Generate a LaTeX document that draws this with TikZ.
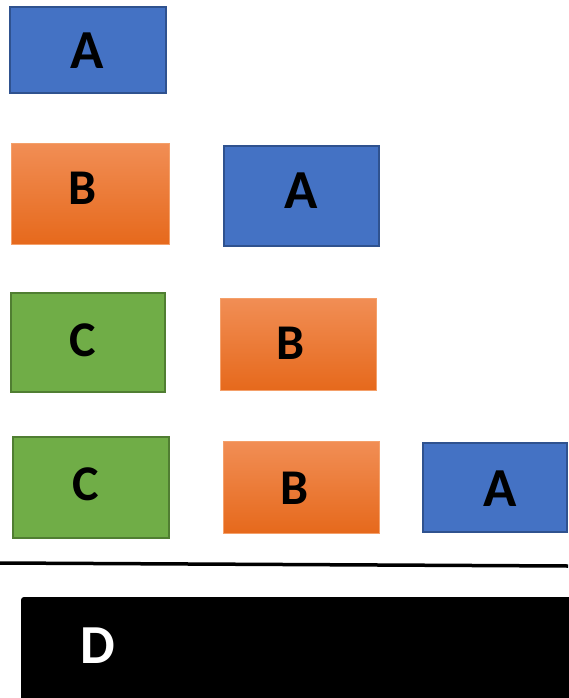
\documentclass[tikz,border=0pt]{standalone}
\usepackage{fontspec}
\setmainfont{Carlito}
\definecolor{ablue}{HTML}{4472C4}
\definecolor{ablueb}{HTML}{2F528F}
\definecolor{cgreen}{HTML}{70AD47}
\definecolor{cgreenb}{HTML}{507E32}
\definecolor{otop}{HTML}{F18E55}
\definecolor{obot}{HTML}{E6691C}
\definecolor{oborder}{HTML}{F4A06A}
\begin{document}
\begin{tikzpicture}[x=1pt,y=-1pt,
  abox/.style={fill=ablue,draw=ablueb,line width=1.6pt},
  bbox/.style={top color=otop,bottom color=obot,draw=oborder,line width=0.8pt},
  cbox/.style={fill=cgreen,draw=cgreenb,line width=1.6pt},
  lab/.style={font=\fontsize{55}{55}\selectfont\bfseries,text=black,inner sep=0pt},
  labs/.style={font=\fontsize{50}{50}\selectfont\bfseries,text=black,inner sep=0pt}]
\useasboundingbox (0,0) rectangle (568,698);
% row 1
\path[abox] (10,7) rectangle (166,93);
\node[lab] (ta1) at (87,51) {A};
% row 2
\path[bbox] (11,143) rectangle (169,244);
\node[labs] (tb1) at (83,188) {B};
\path[abox] (224,146) rectangle (379,246);
\node[lab] (ta2) at (301,191) {A};
% row 3
\path[cbox] (11,293) rectangle (165,392);
\node[labs] (tc1) at (83,340) {C};
\path[bbox] (220,298) rectangle (376,390);
\node[labs] (tb2) at (291,343) {B};
% row 4
\path[cbox] (13,437) rectangle (169,538);
\node[labs] (tc2) at (86,484) {C};
\path[bbox] (223,441) rectangle (379,533);
\node[labs] (tb3) at (295,488) {B};
\path[abox] (423,443) rectangle (567,532);
\node[lab] (ta3) at (500,489) {A};
% divider
\coordinate (l1) at (0,563);
\coordinate (l2) at (568,566);
\draw[line width=3.5pt] (l1) -- (l2);
% D box
\fill[black,rounded corners=3pt] (21,597) rectangle (590,720);
\node[lab,text=white] (td) at (98,646) {D};
\end{tikzpicture}
\end{document}
